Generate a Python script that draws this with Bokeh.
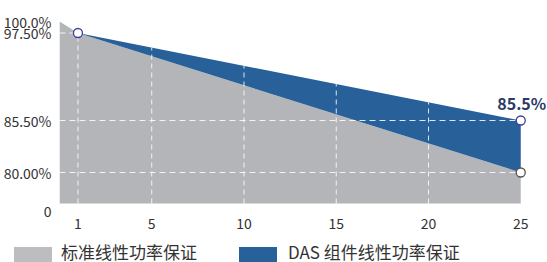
import numpy as np
from bokeh.plotting import figure
from bokeh.layouts import column
from bokeh.models import (Range1d, FixedTicker, Div)
from bokeh.embed import file_html
from bokeh.resources import INLINE

# ---- data ----
years_standard = [0, 1, 25]
standard = [100.0, 97.5, 80.0]          # 标准线性功率保证
years_das = [1, 25]
das = [97.5, 85.5]                      # DAS 组件线性功率保证
x_ticks = [1, 5, 10, 15, 20, 25]
y_tick_values = [0, 80.0, 85.5, 97.5, 100.0]
y_tick_labels = ["0", "80.00%", "85.50%", "97.50%", "100.0%"]
series_names = ["标准线性功率保证", "DAS 组件线性功率保证"]
end_label = "85.5%"

# ---- broken (piecewise-linear) y scale: percent -> display units ----
SCALE_PCT = [0, 80.0, 85.5, 97.5, 100.0]
SCALE_DISP = [0, 31, 83, 170.5, 182]
def ymap(v):
    return np.interp(np.asarray(v, dtype=float), SCALE_PCT, SCALE_DISP)

FONT = "Noto Sans CJK SC"
GRAY = "#b4b5b8"
GRAY_LEG = "#bdbdbf"
BLUE = "#28609a"
NAVY = "#2b3a67"
X_END = 26.45

p = figure(width=547, height=238, output_backend="svg", toolbar_location=None,
           x_range=Range1d(0, X_END), y_range=Range1d(-7, 191),
           min_border_left=59, min_border_right=0, min_border_top=12,
           min_border_bottom=28)
p.outline_line_color = None
p.xgrid.visible = False
p.ygrid.visible = False

# areas
x_end = years_standard[-1]
gx = [years_standard[0]] + years_standard + [x_end]
gy = [0] + list(ymap(standard)) + [0]
p.patch(gx, gy, fill_color=GRAY, line_color=None)

std_at_das = np.interp(years_das, years_standard, standard)
bx = years_das + years_das[::-1]
by = list(ymap(das)) + list(ymap(std_at_das[::-1]))
p.patch(bx, by, fill_color=BLUE, line_color=None)

# gridlines clipped to the filled envelope
env_x = np.array([years_standard[0]] + years_das, dtype=float)
env_d = ymap([standard[0]] + das)
vx = [t for t in x_ticks if t < x_end]
vtop = np.interp(vx, env_x, env_d)
p.segment(x0=vx, y0=[0] * len(vx), x1=vx, y1=vtop,
          line_color="white", line_dash="5 4", line_width=1, line_alpha=0.85)
hlev = [80.0, 85.5, 97.5]
hd = ymap(hlev)
hx1 = np.interp(hd, env_d[::-1], env_x[::-1])
p.segment(x0=[0] * len(hlev), y0=hd, x1=hx1, y1=hd,
          line_color="white", line_dash="6 4", line_width=1, line_alpha=0.85)

# markers
p.scatter([years_das[0], years_das[-1]], ymap([das[0], das[-1]]), size=9,
          fill_color="white", line_color="#3d3f9a", line_width=1.3)
p.scatter([years_standard[-1]], ymap([standard[-1]]), size=9,
          fill_color="white", line_color="#555555", line_width=1.3)

p.text([26.38], [ymap(das[-1]) + 18], text=[end_label], text_align="right",
       text_baseline="middle", text_font_size="16px", text_font_style="bold",
       text_color=NAVY, text_font={"value": FONT})

# axes
p.xaxis.ticker = FixedTicker(ticks=x_ticks)
p.xaxis.axis_line_color = None
p.xaxis.major_tick_line_color = None
p.xaxis.minor_tick_line_color = None
p.xaxis.major_label_standoff = 1
p.xaxis.major_label_text_font = FONT
p.xaxis.major_label_text_font_size = "14px"
p.xaxis.major_label_text_color = "#333333"

ytick_pos = [-7 if v == 0 else float(ymap(v)) for v in y_tick_values]
p.yaxis.ticker = FixedTicker(ticks=ytick_pos)
p.yaxis.major_label_overrides = {pos: lab for pos, lab in zip(ytick_pos, y_tick_labels)}
p.yaxis.axis_line_color = None
p.yaxis.major_tick_line_color = None
p.yaxis.minor_tick_line_color = None
p.yaxis.major_label_standoff = 2
p.yaxis.major_label_text_font = FONT
p.yaxis.major_label_text_font_size = "14px"
p.yaxis.major_label_text_color = "#333333"

# legend strip below the chart
def swatch(left, color):
    return (f'<span style="position:absolute;left:{left}px;top:9px;width:38px;'
            f'height:15px;background:{color};"></span>')

def label(left, txt):
    return (f'<span style="position:absolute;left:{left}px;top:5px;'
            f'line-height:18px;white-space:nowrap;">{txt}</span>')

legend_html = (
    f'<div style="position:relative;width:547px;height:24px;overflow:hidden;'
    f'font-family:\'{FONT}\';font-size:17px;color:#333333;">'
    + swatch(14, GRAY_LEG) + label(61, series_names[0])
    + swatch(239, BLUE) + label(288, series_names[1])
    + '</div>'
)
legend_div = Div(text=legend_html, width=547, height=24, margin=0)

layout = column(p, legend_div, spacing=0)
open("out.html", "w").write(file_html(layout, INLINE))
